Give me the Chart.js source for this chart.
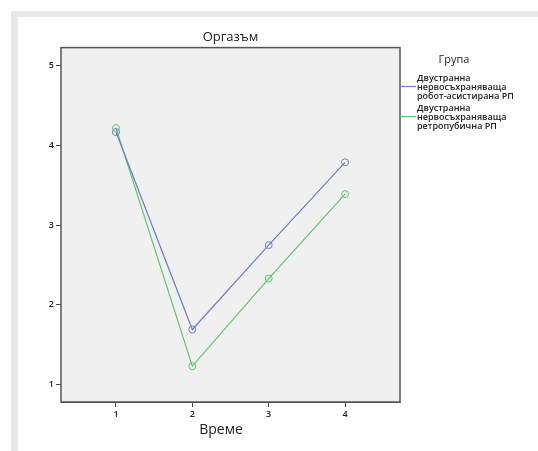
<!doctype html>
<html lang="bg">
  <head>
    <meta charset="utf-8">
    <title>Оргазъм</title>
    <style>
      * { margin: 0; padding: 0; }
      body { width: 538px; height: 451px; background: #fff; overflow: hidden; position: relative; }
      .frame { position: absolute; left: 11px; top: 11px; width: 600px; height: 500px; background: #e9e9e9; }
      .inner { position: absolute; left: 7px; top: 6px; right: 0; bottom: 0; background: #fff; }
      #myChart { position: absolute; left: 0; top: 0; }
    </style>
  </head>
  <body>
    <div class="frame"><div class="inner"></div></div>
    <canvas id="myChart" width="538" height="451"></canvas>
    <script src="https://cdn.jsdelivr.net/npm/chart.js/dist/chart.umd.min.js"></script>
    <script>
    // data
    const times = [1, 2, 3, 4];
    const robotValues = [4.17, 1.69, 2.75, 3.79];
    const retroValues = [4.22, 1.23, 2.33, 3.39];
    const yTicks = [1, 2, 3, 4, 5];
    const seriesNames = [
      ['Двустранна', 'нервосъхраняваща', 'робот-асистирана РП'],
      ['Двустранна', 'нервосъхраняваща', 'ретропубична РП']
    ];
    const colors = ['#6d7dc6', '#5cc86c'];

    const toPoints = vals => times.map((t, i) => ({ x: t, y: vals[i] }));

    const font = '"Open Sans", "Noto Sans", sans-serif';

    // plot background + frame
    const plotFrame = {
      id: 'plotFrame',
      beforeDatasetsDraw(chart) {
        const { ctx, chartArea: a } = chart;
        ctx.save();
        ctx.fillStyle = '#f0f0f0';
        ctx.fillRect(a.left, a.top, a.right - a.left, a.bottom - a.top);
        ctx.restore();
      },
      afterDatasetsDraw(chart) {
        const { ctx, chartArea: a } = chart;
        ctx.save();
        ctx.strokeStyle = '#555';
        ctx.lineWidth = 1.5;
        ctx.strokeRect(a.left, a.top, a.right - a.left, a.bottom - a.top);
        ctx.restore();
      }
    };

    // legend on the right with wrapped names, x-axis title a bit left of centre
    const sideLegend = {
      id: 'sideLegend',
      afterDraw(chart) {
        const { ctx, chartArea: a } = chart;
        ctx.save();
        ctx.fillStyle = '#222';
        ctx.textBaseline = 'middle';
        ctx.textAlign = 'center';
        ctx.font = '14px ' + font;
        ctx.fillText('Време', 221, 430);
        ctx.font = '11px ' + font;
        ctx.fillText('Група', 454, 60);
        ctx.textAlign = 'left';
        ctx.font = '600 9px ' + font;
        const starts = [78, 108];
        chart.data.datasets.forEach((ds, i) => {
          const y0 = starts[i];
          ctx.strokeStyle = ds.borderColor;
          ctx.lineWidth = 1.2;
          ctx.beginPath();
          ctx.moveTo(a.right, y0 + 8.5);
          ctx.lineTo(a.right + 16, y0 + 8.5);
          ctx.stroke();
          ctx.fillStyle = '#222';
          seriesNames[i].forEach((line, j) => {
            ctx.fillText(line, a.right + 17, y0 + j * 9.2);
          });
        });
        ctx.restore();
      }
    };

    const config = {
      type: 'line',
      data: {
        datasets: [
          {
            label: seriesNames[0].join(' '),
            data: toPoints(robotValues),
            borderColor: colors[0],
            backgroundColor: 'transparent',
            borderWidth: 1.2,
            pointRadius: 3.5,
            pointBorderWidth: 1,
            pointBackgroundColor: 'transparent',
            pointBorderColor: colors[0]
          },
          {
            label: seriesNames[1].join(' '),
            data: toPoints(retroValues),
            borderColor: colors[1],
            backgroundColor: 'transparent',
            borderWidth: 1.2,
            pointRadius: 3.5,
            pointBorderWidth: 1,
            pointBackgroundColor: 'transparent',
            pointBorderColor: colors[1]
          }
        ]
      },
      options: {
        responsive: false,
        animation: false,
        layout: { padding: { left: 0, top: 0, right: 138, bottom: 0 } },
        plugins: {
          legend: { display: false },
          tooltip: { enabled: false },
          title: {
            display: true,
            text: 'Оргазъм',
            fullSize: false,
            color: '#222',
            font: { family: font, size: 13, weight: 'normal' },
            padding: { top: 29, bottom: 3 }
          }
        },
        scales: {
          x: {
            type: 'linear',
            min: 0.28,
            max: 4.72,
            afterBuildTicks: s => { s.ticks = times.map(v => ({ value: v })); },
            afterFit: s => { s.height = 49; },
            ticks: {
              color: '#222',
              font: { family: font, size: 9, weight: '600' },
              padding: 2,
              callback: v => String(v)
            },
            grid: { drawOnChartArea: false, tickLength: 5, tickColor: '#444' },
            border: { color: '#555', width: 1 }
          },
          y: {
            type: 'linear',
            min: 0.78,
            max: 5.23,
            afterBuildTicks: s => { s.ticks = yTicks.map(v => ({ value: v })); },
            afterFit: s => { s.width = 61; },
            ticks: {
              color: '#222',
              font: { family: font, size: 9, weight: '600' },
              padding: 2,
              callback: v => String(v)
            },
            grid: { drawOnChartArea: false, tickLength: 5, tickColor: '#444' },
            border: { color: '#555', width: 1 }
          }
        }
      },
      plugins: [plotFrame, sideLegend]
    };

    const myChart = new Chart(document.getElementById('myChart'), config);
    </script>
  </body>
</html>
